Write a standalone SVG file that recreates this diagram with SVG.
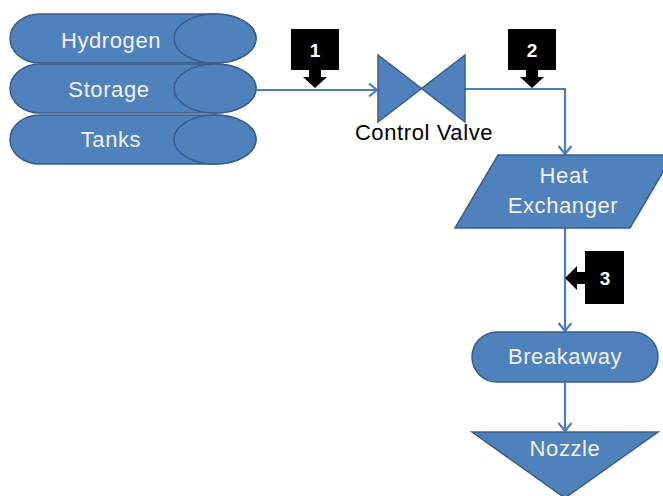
<svg xmlns="http://www.w3.org/2000/svg" width="663" height="496" viewBox="0 0 663 496">
<defs>
<style>
.shape{fill:#4F81BD;stroke:#385D8A;stroke-width:1.5}
.lbl{font-family:"Liberation Sans",Arial,sans-serif;font-size:22px;letter-spacing:0.6px;fill:#F2F2F2;text-anchor:middle}
.dark{font-family:"Liberation Sans",Arial,sans-serif;font-size:22px;letter-spacing:0.6px;fill:#000;text-anchor:middle}
.num{font-family:"Liberation Sans",Arial,sans-serif;font-size:19px;font-weight:bold;fill:#fff;text-anchor:middle}
.call{fill:#000}
.conn{fill:none;stroke:#4A7EBB;stroke-width:2.2}
</style>
<marker id="arr" markerUnits="userSpaceOnUse" markerWidth="14" markerHeight="16" refX="10" refY="7" orient="auto" viewBox="0 0 14 16">
<path d="M2,0.5 L10,7 L2,13.5" fill="none" stroke="#4A7EBB" stroke-width="2.2"/>
</marker>
</defs>
<rect width="663" height="496" fill="#fff"/>
<g id="tanks">
<path class="shape" d="M40 14 L215 14 A41 24.5 0 0 1 215 63 L40 63 A30 24.5 0 0 1 40 14 Z"/>
<ellipse class="shape" cx="215" cy="38.5" rx="41" ry="24.5"/>
<path class="shape" d="M40 64 L215 64 A41 24.5 0 0 1 215 113 L40 113 A30 24.5 0 0 1 40 64 Z"/>
<ellipse class="shape" cx="215" cy="88.5" rx="41" ry="24.5"/>
<path class="shape" d="M40 115 L215 115 A41 24.5 0 0 1 215 164 L40 164 A30 24.5 0 0 1 40 115 Z"/>
<ellipse class="shape" cx="215" cy="139.5" rx="41" ry="24.5"/>
<text class="lbl" x="111" y="48">Hydrogen</text>
<text class="lbl" x="109" y="97">Storage</text>
<text class="lbl" x="111" y="147">Tanks</text>
</g>
<g id="connectors">
<path class="conn" d="M256 90 H377" marker-end="url(#arr)"/>
<path class="conn" d="M465 89 H565 V154" marker-end="url(#arr)"/>
<path class="conn" d="M565 228 V331" marker-end="url(#arr)"/>
<path class="conn" d="M565 383 V431" marker-end="url(#arr)"/>
</g>
<g id="valve">
<polygon class="shape" points="378,55 378,122 421.5,88.5"/>
<polygon class="shape" points="465,55 465,122 421.5,88.5"/>
<text class="dark" x="424" y="140">Control Valve</text>
</g>
<g id="heat-exchanger">
<polygon class="shape" points="498,155 673,155 630,228 455,228"/>
<text class="lbl" x="564" y="183">Heat</text>
<text class="lbl" x="563" y="213">Exchanger</text>
</g>
<g id="breakaway">
<rect class="shape" x="472" y="332" width="186" height="50" rx="25"/>
<text class="lbl" x="565" y="364">Breakaway</text>
</g>
<g id="nozzle">
<polygon class="shape" points="472,432 658,432 565,498"/>
<text class="lbl" x="565" y="456">Nozzle</text>
</g>
<g id="callout-1">
<path class="call" d="M291 29 H339 V70 H321 V77 H327 L315 88 L303 77 H309 V70 H291 Z"/>
<text class="num" x="315" y="57">1</text>
</g>
<g id="callout-2">
<path class="call" d="M508 29 H556 V70 H538 V77 H544 L532 88 L520 77 H526 V70 H508 Z"/>
<text class="num" x="532" y="57">2</text>
</g>
<g id="callout-3">
<path class="call" d="M624 251 V304 H585 V284 H577 V290 L565 278 L577 266 V272 H585 V251 Z"/>
<text class="num" x="605" y="285">3</text>
</g>
</svg>
